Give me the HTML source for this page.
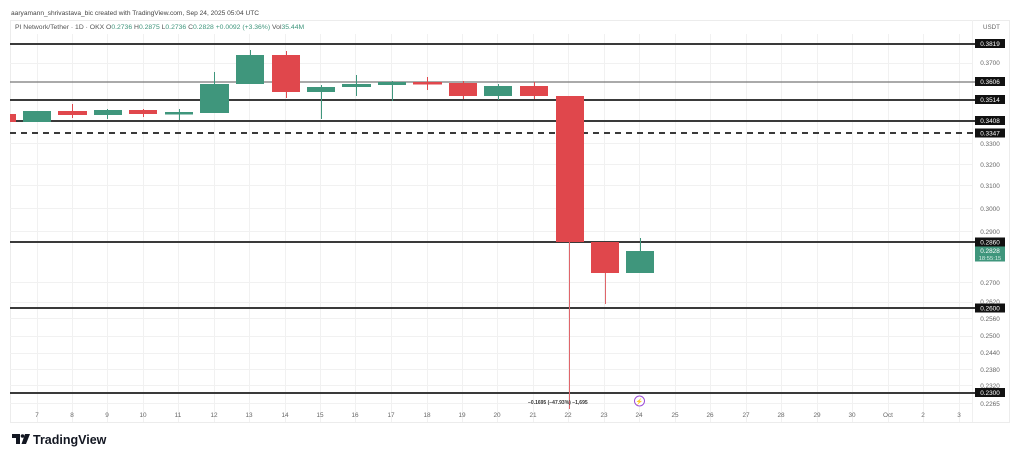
<!DOCTYPE html>
<html><head><meta charset="utf-8"><style>
html,body{margin:0;padding:0;background:#fff;}
svg{display:block;font-family:"Liberation Sans",sans-serif;}
</style></head><body>
<svg width="1024" height="450" viewBox="0 0 1024 450" xmlns="http://www.w3.org/2000/svg">
<rect width="1024" height="450" fill="#fff"/>
<!-- header -->
<text x="11" y="15" font-size="6.6" fill="#444">aaryamann_shrivastava_bic created with TradingView.com, Sep 24, 2025 05:04 UTC</text>
<!-- panel border -->
<rect x="10.5" y="20.5" width="999" height="402" fill="none" stroke="#ececec" stroke-width="1"/>
<text x="15" y="29" font-size="6.8" fill="#555">PI Network/Tether · 1D · OKX <tspan fill="#555">O</tspan><tspan fill="#3f967c">0.2736</tspan> <tspan fill="#555">H</tspan><tspan fill="#3f967c">0.2875</tspan> <tspan fill="#555">L</tspan><tspan fill="#3f967c">0.2736</tspan> <tspan fill="#555">C</tspan><tspan fill="#3f967c">0.2828</tspan> <tspan fill="#3f967c">+0.0092 (+3.36%)</tspan> <tspan fill="#555">Vol</tspan><tspan fill="#3f967c">35.44M</tspan></text>
<text x="983" y="29" font-size="6.2" fill="#666">USDT</text>
<!-- grid -->
<g stroke="#f1f1f1" stroke-width="1">
<line x1="10" x2="972" y1="63.5" y2="63.5"/>
<line x1="10" x2="972" y1="143.5" y2="143.5"/>
<line x1="10" x2="972" y1="164.5" y2="164.5"/>
<line x1="10" x2="972" y1="185.5" y2="185.5"/>
<line x1="10" x2="972" y1="208.5" y2="208.5"/>
<line x1="10" x2="972" y1="231.5" y2="231.5"/>
<line x1="10" x2="972" y1="282.5" y2="282.5"/>
<line x1="10" x2="972" y1="302.5" y2="302.5"/>
<line x1="10" x2="972" y1="318.5" y2="318.5"/>
<line x1="10" x2="972" y1="336.5" y2="336.5"/>
<line x1="10" x2="972" y1="353.5" y2="353.5"/>
<line x1="10" x2="972" y1="369.5" y2="369.5"/>
<line x1="10" x2="972" y1="385.5" y2="385.5"/>
<line x1="10" x2="972" y1="403.5" y2="403.5"/>
</g>
<g stroke="#f1f1f1" stroke-width="1">
<line x1="37.5" x2="37.5" y1="34" y2="422"/>
<line x1="72.5" x2="72.5" y1="34" y2="422"/>
<line x1="107.5" x2="107.5" y1="34" y2="422"/>
<line x1="143.5" x2="143.5" y1="34" y2="422"/>
<line x1="178.5" x2="178.5" y1="34" y2="422"/>
<line x1="214.5" x2="214.5" y1="34" y2="422"/>
<line x1="249.5" x2="249.5" y1="34" y2="422"/>
<line x1="285.5" x2="285.5" y1="34" y2="422"/>
<line x1="320.5" x2="320.5" y1="34" y2="422"/>
<line x1="355.5" x2="355.5" y1="34" y2="422"/>
<line x1="391.5" x2="391.5" y1="34" y2="422"/>
<line x1="427.5" x2="427.5" y1="34" y2="422"/>
<line x1="462.5" x2="462.5" y1="34" y2="422"/>
<line x1="497.5" x2="497.5" y1="34" y2="422"/>
<line x1="533.5" x2="533.5" y1="34" y2="422"/>
<line x1="568.5" x2="568.5" y1="34" y2="422"/>
<line x1="604.5" x2="604.5" y1="34" y2="422"/>
<line x1="639.5" x2="639.5" y1="34" y2="422"/>
<line x1="675.5" x2="675.5" y1="34" y2="422"/>
<line x1="710.5" x2="710.5" y1="34" y2="422"/>
<line x1="746.5" x2="746.5" y1="34" y2="422"/>
<line x1="781.5" x2="781.5" y1="34" y2="422"/>
<line x1="817.5" x2="817.5" y1="34" y2="422"/>
<line x1="852.5" x2="852.5" y1="34" y2="422"/>
<line x1="888.5" x2="888.5" y1="34" y2="422"/>
<line x1="923.5" x2="923.5" y1="34" y2="422"/>
<line x1="959.5" x2="959.5" y1="34" y2="422"/>
</g>
<line x1="972.5" x2="972.5" y1="20" y2="422" stroke="#f0f0f0"/>

<!-- horizontal level lines -->
<g stroke="#3a3a3a">
<line x1="10" x2="975" y1="44" y2="44" stroke-width="2"/>
<line x1="10" x2="975" y1="82" y2="82" stroke-width="1.2" stroke="#777"/>
<line x1="10" x2="975" y1="100" y2="100" stroke-width="2"/>
<line x1="10" x2="975" y1="121" y2="121" stroke-width="2"/>
<line x1="10" x2="975" y1="133" y2="133" stroke-width="2" stroke-dasharray="6,5"/>
<line x1="10" x2="975" y1="242" y2="242" stroke-width="2"/>
<line x1="10" x2="975" y1="308" y2="308" stroke-width="2"/>
<line x1="10" x2="975" y1="393" y2="393" stroke-width="2"/>
</g>

<!-- candles -->
<defs><clipPath id="c"><rect x="10" y="20" width="962" height="402"/></clipPath></defs>
<g clip-path="url(#c)">
<g stroke-width="1">
<line x1="72.5" x2="72.5" y1="104" y2="118" stroke="#e0474c"/>
<line x1="107.5" x2="107.5" y1="109" y2="119" stroke="#3f967c"/>
<line x1="143.5" x2="143.5" y1="109" y2="117" stroke="#e0474c"/>
<line x1="179.5" x2="179.5" y1="109" y2="120" stroke="#3f967c"/>
<line x1="214.5" x2="214.5" y1="72" y2="113" stroke="#3f967c"/>
<line x1="250.5" x2="250.5" y1="50" y2="84" stroke="#3f967c"/>
<line x1="286.5" x2="286.5" y1="51" y2="98" stroke="#e0474c"/>
<line x1="321.5" x2="321.5" y1="85" y2="119" stroke="#3f967c"/>
<line x1="356.5" x2="356.5" y1="75" y2="96" stroke="#3f967c"/>
<line x1="392.5" x2="392.5" y1="81" y2="101" stroke="#3f967c"/>
<line x1="427.5" x2="427.5" y1="77" y2="90" stroke="#e0474c"/>
<line x1="463.5" x2="463.5" y1="81" y2="99" stroke="#e0474c"/>
<line x1="498.5" x2="498.5" y1="84" y2="100" stroke="#3f967c"/>
<line x1="534.5" x2="534.5" y1="82" y2="99" stroke="#e0474c"/>
<line x1="569.5" x2="569.5" y1="96" y2="409" stroke="#e0666b"/>
<line x1="605.5" x2="605.5" y1="242" y2="304" stroke="#e0666b"/>
<line x1="640.5" x2="640.5" y1="238" y2="273" stroke="#3f967c"/>
</g>
<rect x="-12" y="114" width="28" height="8" fill="#e0474c"/>
<rect x="23" y="111" width="28" height="11" fill="#3f967c"/>
<rect x="58" y="111" width="29" height="4" fill="#e0474c"/>
<rect x="94" y="110" width="28" height="5" fill="#3f967c"/>
<rect x="129" y="110" width="28" height="4" fill="#e0474c"/>
<rect x="165" y="112" width="28" height="2.5" fill="#3f967c"/>
<rect x="200" y="84" width="29" height="29" fill="#3f967c"/>
<rect x="236" y="55" width="28" height="29" fill="#3f967c"/>
<rect x="272" y="55" width="28" height="37" fill="#e0474c"/>
<rect x="307" y="87" width="28" height="5" fill="#3f967c"/>
<rect x="342" y="84" width="29" height="3" fill="#3f967c"/>
<rect x="378" y="82" width="28" height="3" fill="#3f967c"/>
<rect x="413" y="82" width="29" height="2.5" fill="#e0474c"/>
<rect x="449" y="83" width="28" height="13" fill="#e0474c"/>
<rect x="484" y="86" width="28" height="10" fill="#3f967c"/>
<rect x="520" y="86" width="28" height="10" fill="#e0474c"/>
<rect x="556" y="96" width="28" height="146" fill="#e0474c"/>
<rect x="591" y="242" width="28" height="31" fill="#e0474c"/>
<rect x="626" y="251" width="28" height="22" fill="#3f967c"/>
</g>

<!-- measurement text & icon -->
<text x="528" y="404" font-size="5" font-weight="bold" fill="#333">−0.1695 (−47.93%) −1,695</text>
<circle cx="639.5" cy="401" r="5" fill="#fff" stroke="#9c4fd6" stroke-width="1"/>
<text x="639.5" y="403.5" font-size="6" fill="#9c4fd6" text-anchor="middle">⚡</text>

<!-- price axis labels -->
<g font-size="6.4" fill="#666" text-anchor="middle">
<text x="990" y="65">0.3700</text>
<text x="990" y="146">0.3300</text>
<text x="990" y="167">0.3200</text>
<text x="990" y="188">0.3100</text>
<text x="990" y="211">0.3000</text>
<text x="990" y="234">0.2900</text>
<text x="990" y="285">0.2700</text>
<text x="990" y="304">0.2620</text>
<text x="990" y="321">0.2560</text>
<text x="990" y="338">0.2500</text>
<text x="990" y="355">0.2440</text>
<text x="990" y="372">0.2380</text>
<text x="990" y="388">0.2320</text>
<text x="990" y="406">0.2265</text>
</g>
<g>
<rect x="975" y="39" width="30" height="9" fill="#111"/>
<rect x="975" y="77" width="30" height="9" fill="#111"/>
<rect x="975" y="95" width="30" height="9" fill="#111"/>
<rect x="975" y="116" width="30" height="9" fill="#111"/>
<rect x="975" y="128.5" width="30" height="9" fill="#111"/>
<rect x="975" y="237.5" width="30" height="9" fill="#111"/>
<rect x="975" y="303.5" width="30" height="9" fill="#111"/>
<rect x="975" y="388" width="30" height="9" fill="#111"/>
<rect x="975" y="246.5" width="30" height="15" fill="#3f967c"/>
</g>
<g font-size="6.4" fill="#fff" text-anchor="middle">
<text x="990" y="46">0.3819</text>
<text x="990" y="84">0.3606</text>
<text x="990" y="102">0.3514</text>
<text x="990" y="123">0.3408</text>
<text x="990" y="135.5">0.3347</text>
<text x="990" y="244.5">0.2860</text>
<text x="990" y="310.5">0.2600</text>
<text x="990" y="395">0.2300</text>
<text x="990" y="253">0.2828</text>
<text x="990" y="260" font-size="5.8" fill="#d8efe8">18:55:15</text>
</g>

<!-- time axis labels -->
<g font-size="6.4" fill="#666" text-anchor="middle">
<text x="37" y="417">7</text>
<text x="72" y="417">8</text>
<text x="107" y="417">9</text>
<text x="143" y="417">10</text>
<text x="178" y="417">11</text>
<text x="214" y="417">12</text>
<text x="249" y="417">13</text>
<text x="285" y="417">14</text>
<text x="320" y="417">15</text>
<text x="355" y="417">16</text>
<text x="391" y="417">17</text>
<text x="427" y="417">18</text>
<text x="462" y="417">19</text>
<text x="497" y="417">20</text>
<text x="533" y="417">21</text>
<text x="568" y="417">22</text>
<text x="604" y="417">23</text>
<text x="639" y="417">24</text>
<text x="675" y="417">25</text>
<text x="710" y="417">26</text>
<text x="746" y="417">27</text>
<text x="781" y="417">28</text>
<text x="817" y="417">29</text>
<text x="852" y="417">30</text>
<text x="888" y="417">Oct</text>
<text x="923" y="417">2</text>
<text x="959" y="417">3</text>
</g>

<!-- TradingView logo -->
<g fill="#131722">
<path d="M12 434 h8 v10 h-4 v-6 h-4 z"/>
<circle cx="22.5" cy="436" r="1.8"/>
<path d="M25 434 h5 l-4 10 h-4.5 z"/>
</g>
<text x="33" y="444" font-size="12.5" font-weight="bold" fill="#131722">TradingView</text>
</svg>
</body></html>
